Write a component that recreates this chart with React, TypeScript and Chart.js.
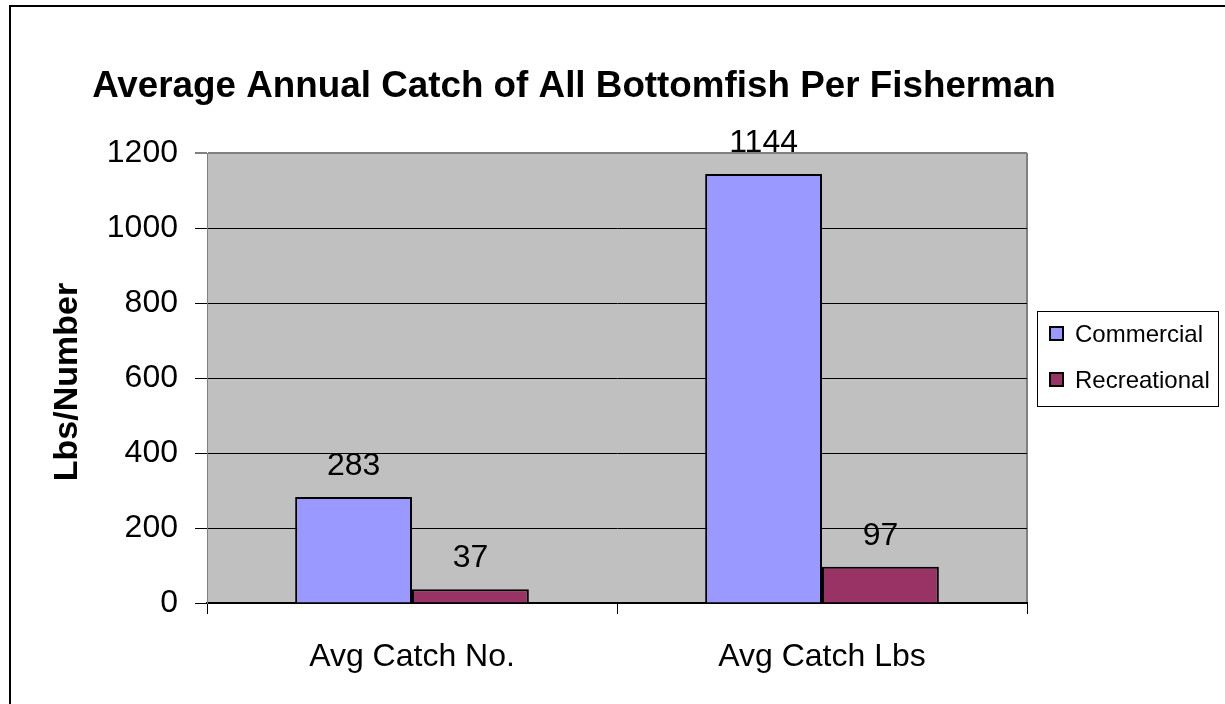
import React, { useEffect, useRef } from "react";
import { Chart, registerables } from "chart.js";

Chart.register(...registerables);

const categories = ["Avg Catch No.", "Avg Catch Lbs"];
const commercial = [283, 1144];
const recreational = [37, 97];
const seriesNames = ["Commercial", "Recreational"];
const seriesColors = ["#9999FF", "#993366"];
const yTicks = [0, 200, 400, 600, 800, 1000, 1200];
const titleText = "Average Annual Catch of All Bottomfish Per Fisherman";
const yTitleText = "Lbs/Number";

const FONT = '"Liberation Sans", Arial, sans-serif';

const decorPlugin = {
  id: "decor",
  beforeDraw(chart: any) {
    const { ctx, chartArea } = chart;
    ctx.save();
    ctx.fillStyle = "#ffffff";
    ctx.fillRect(0, 0, chart.width, chart.height);
    ctx.fillStyle = "#C0C0C0";
    ctx.fillRect(chartArea.left, chartArea.top, chartArea.right - chartArea.left, chartArea.bottom - chartArea.top);
    ctx.strokeStyle = "#808080";
    ctx.lineWidth = 2;
    ctx.beginPath();
    ctx.moveTo(chartArea.right, chartArea.top);
    ctx.lineTo(chartArea.right, chartArea.bottom);
    ctx.stroke();
    ctx.restore();
  },
  afterDraw(chart: any) {
    const { ctx } = chart;
    ctx.save();
    // outer border
    ctx.strokeStyle = "#000";
    ctx.lineWidth = 2;
    ctx.beginPath();
    ctx.moveTo(10, chart.height + 5);
    ctx.lineTo(10, 6);
    ctx.lineTo(chart.width + 5, 6);
    ctx.stroke();
    // title
    ctx.fillStyle = "#000";
    ctx.font = `bold 36.8px ${FONT}`;
    ctx.textAlign = "center";
    ctx.textBaseline = "alphabetic";
    ctx.fillText(titleText, 574, 97);
    // y title
    ctx.save();
    ctx.translate(77, 382);
    ctx.rotate(-Math.PI / 2);
    ctx.font = `bold 34px ${FONT}`;
    ctx.textAlign = "center";
    ctx.fillText(yTitleText, 0, 0);
    ctx.restore();
    // legend
    ctx.strokeStyle = "#000";
    ctx.lineWidth = 1;
    ctx.strokeRect(1037.5, 311.5, 181, 95);
    const baselines = [342, 388];
    ctx.font = `24px ${FONT}`;
    ctx.textAlign = "left";
    seriesNames.forEach((name, i) => {
      const b = baselines[i];
      ctx.fillStyle = seriesColors[i];
      ctx.fillRect(1050, b - 15, 13, 13);
      ctx.strokeStyle = "#000";
      ctx.lineWidth = 2;
      ctx.strokeRect(1050, b - 15, 13, 13);
      ctx.fillStyle = "#000";
      ctx.fillText(name, 1075, b);
    });
    ctx.restore();
  },
  afterDatasetsDraw(chart: any) {
    const { ctx } = chart;
    ctx.save();
    ctx.fillStyle = "#000";
    ctx.font = `32px ${FONT}`;
    ctx.textAlign = "center";
    ctx.textBaseline = "alphabetic";
    chart.data.datasets.forEach((ds: any, di: number) => {
      const meta = chart.getDatasetMeta(di);
      meta.data.forEach((el: any, i: number) => {
        ctx.fillText(String(ds.data[i]), el.x, el.y - 22);
      });
    });
    ctx.restore();
  },
};

export default function App() {
  const ref = useRef<HTMLCanvasElement | null>(null);
  useEffect(() => {
    if (!ref.current) return;
    const chart = new Chart(ref.current, {
      type: "bar",
      data: {
        labels: categories,
        datasets: [
          {
            label: seriesNames[0],
            data: commercial,
            backgroundColor: seriesColors[0],
            borderColor: "#000",
            borderWidth: 2,
            categoryPercentage: 0.57,
            barPercentage: 1,
          },
          {
            label: seriesNames[1],
            data: recreational,
            backgroundColor: seriesColors[1],
            borderColor: "#000",
            borderWidth: 2,
            categoryPercentage: 0.57,
            barPercentage: 1,
          },
        ],
      },
      options: {
        responsive: false,
        animation: false,
        devicePixelRatio: 1,
        layout: { padding: { top: 153, right: 198, left: 0, bottom: 0 } },
        plugins: {
          legend: { display: false },
          title: { display: false },
          tooltip: { enabled: false },
        },
        scales: {
          x: {
            type: "category",
            offset: true,
            grid: {
              display: true,
              drawOnChartArea: false,
              drawTicks: true,
              tickLength: 11,
              color: "#000",
              offset: true,
            },
            border: { display: true, color: "#000", width: 2 },
            ticks: { color: "#000", font: { family: FONT, size: 32 }, padding: 24 },
            afterFit: (s: any) => {
              s.height = 101;
            },
          },
          y: {
            min: 0,
            max: 1200,
            afterBuildTicks: (s: any) => {
              s.ticks = yTicks.map((v) => ({ value: v }));
            },
            grid: {
              color: (c: any) => (c.tick && c.tick.value === 1200 ? "#808080" : "#000"),
              lineWidth: (c: any) => (c.tick && c.tick.value === 1200 ? 2 : 1),
              tickLength: 12,
            },
            border: { display: true, color: "#808080", width: 1 },
            ticks: {
              color: "#000",
              font: { family: FONT, size: 32 },
              padding: 17,
              callback: (v: any) => String(v),
            },
            afterFit: (s: any) => {
              s.width = 207;
            },
          },
        },
      },
      plugins: [decorPlugin],
    });
    return () => chart.destroy();
  }, []);
  return (
    <div style={{ position: "fixed", left: 0, top: 0, width: 1225, height: 704, background: "#fff" }}>
      <canvas ref={ref} width={1225} height={704} style={{ display: "block" }} />
    </div>
  );
}
